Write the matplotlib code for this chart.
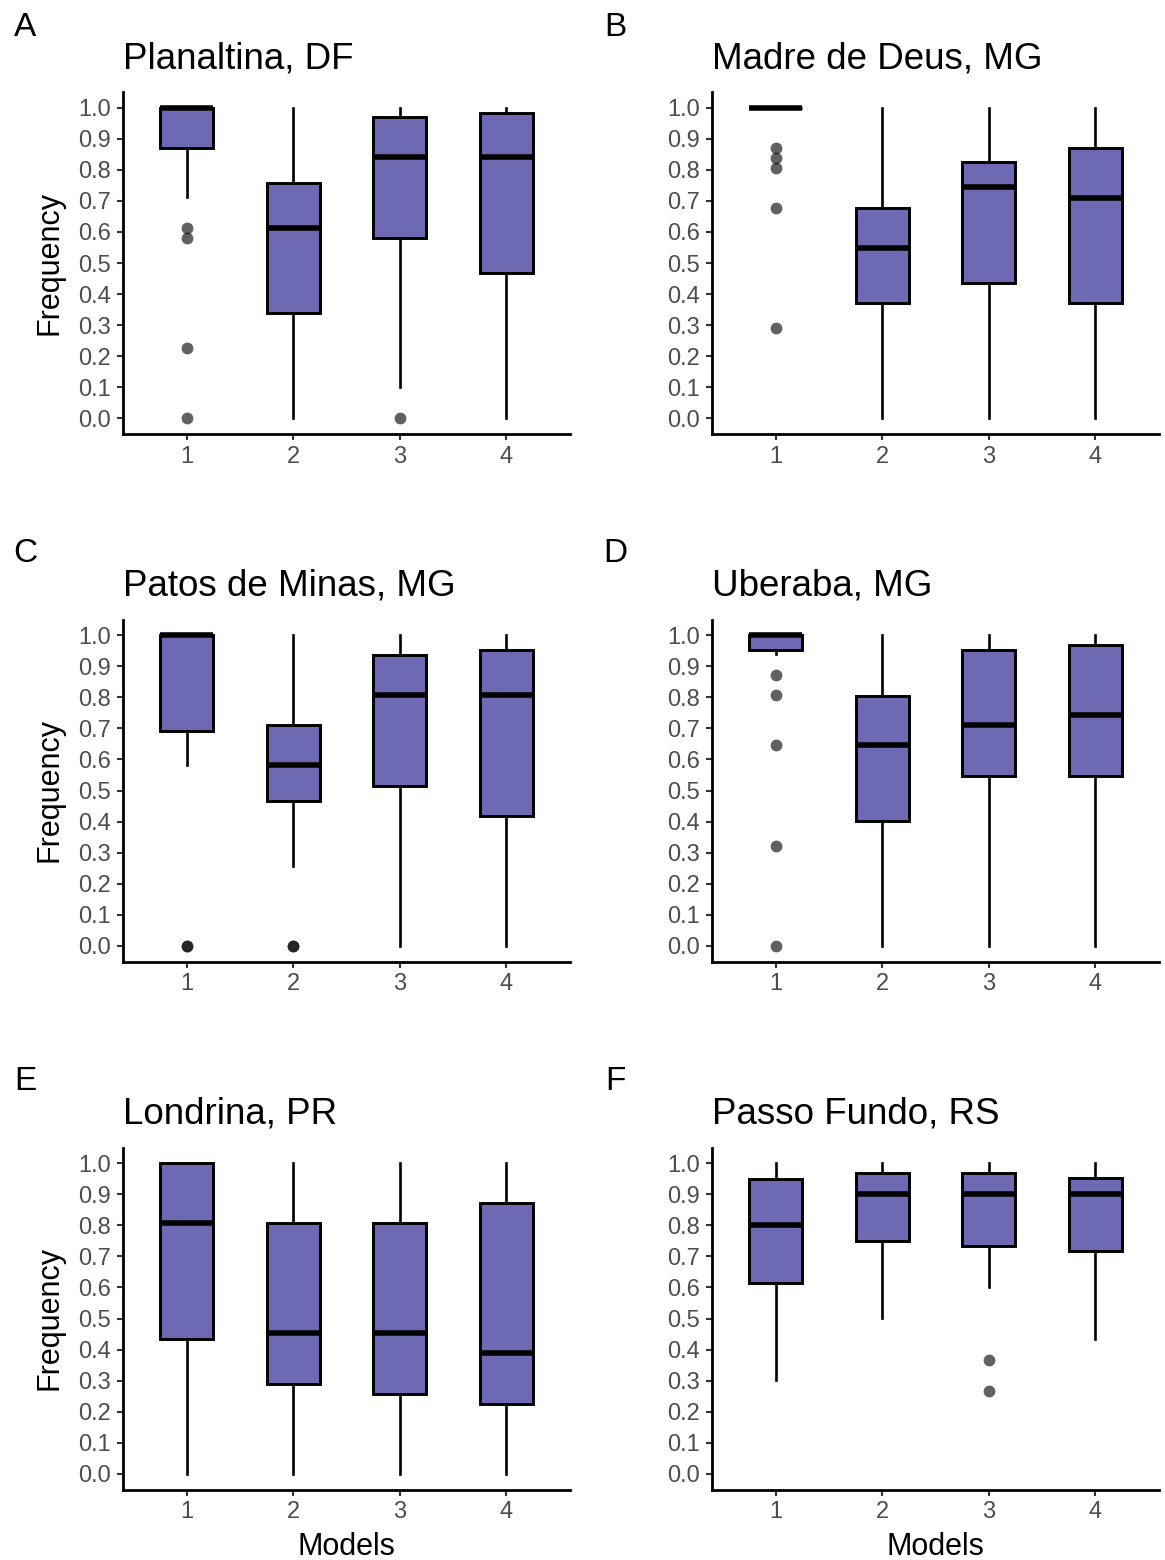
import matplotlib.pyplot as plt

plt.rcParams['font.family'] = ['Liberation Sans', 'DejaVu Sans']

# panel info
letters = ['A', 'B', 'C', 'D', 'E', 'F']
sites = ['Planaltina, DF', 'Madre de Deus, MG', 'Patos de Minas, MG',
         'Uberaba, MG', 'Londrina, PR', 'Passo Fundo, RS']
models = [1, 2, 3, 4]

# box statistics per panel (models 1-4)
q1 = [[0.871, 0.339, 0.581, 0.468],
      [1.000, 0.372, 0.436, 0.372],
      [0.692, 0.467, 0.515, 0.418],
      [0.953, 0.402, 0.547, 0.547],
      [0.434, 0.288, 0.256, 0.224],
      [0.614, 0.749, 0.732, 0.717]]
med = [[1.000, 0.614, 0.840, 0.840],
       [1.000, 0.549, 0.743, 0.710],
       [1.000, 0.581, 0.806, 0.806],
       [1.000, 0.645, 0.710, 0.742],
       [0.808, 0.452, 0.452, 0.388],
       [0.801, 0.901, 0.901, 0.901]]
q3 = [[1.000, 0.758, 0.968, 0.984],
      [1.000, 0.678, 0.824, 0.870],
      [1.000, 0.710, 0.937, 0.952],
      [1.000, 0.805, 0.952, 0.969],
      [1.000, 0.806, 0.806, 0.873],
      [0.950, 0.969, 0.969, 0.952]]
wlo = [[0.712, 0.0, 0.100, 0.0],
       [1.000, 0.0, 0.0, 0.0],
       [0.582, 0.258, 0.0, 0.0],
       [0.940, 0.0, 0.0, 0.0],
       [0.0, 0.0, 0.0, 0.0],
       [0.301, 0.501, 0.602, 0.434]]
whi = [[1.0, 1.0, 1.0, 1.0],
       [1.0, 1.0, 1.0, 1.0],
       [1.0, 1.0, 1.0, 1.0],
       [1.0, 1.0, 1.0, 1.0],
       [1.0, 1.0, 1.0, 1.0],
       [1.0, 1.0, 1.0, 1.0]]
outliers = [[[0.614, 0.581, 0.227, 0.0], [], [0.0], []],
            [[0.871, 0.839, 0.807, 0.678, 0.291], [], [], []],
            [[0.0, 0.0], [0.0, 0.0], [], []],
            [[0.871, 0.806, 0.645, 0.323, 0.0], [], [], []],
            [[], [], [], []],
            [[], [], [0.365, 0.266], []]]

fill = '#6D6AB3'
W, H = 1165, 1560
fig = plt.figure(figsize=(W / 100, H / 100), dpi=100)

lefts = [123, 712]
tops = [92, 619.5, 1147.5]
aw, ah = 447, 342

for i in range(6):
    row, col = i // 2, i % 2
    ax = fig.add_axes([lefts[col] / W, 1 - (tops[row] + ah) / H, aw / W, ah / H])

    stats = []
    for j in range(4):
        stats.append(dict(med=med[i][j], q1=q1[i][j], q3=q3[i][j],
                          whislo=wlo[i][j], whishi=whi[i][j],
                          fliers=outliers[i][j]))
    ax.bxp(stats, positions=models, widths=0.5, patch_artist=True,
           showcaps=False,
           boxprops=dict(facecolor=fill, edgecolor='black', linewidth=2.1),
           medianprops=dict(color='black', linewidth=4.0, solid_capstyle='butt'),
           whiskerprops=dict(color='black', linewidth=1.9),
           flierprops=dict(marker='o', markerfacecolor='black', markeredgecolor='none',
                           markersize=8.5, alpha=0.62))

    ax.set_xlim(0.4, 4.6)
    ax.set_ylim(-0.05, 1.05)
    ax.set_yticks([k / 10 for k in range(11)])
    ax.set_yticklabels([f'{k / 10:.1f}' for k in range(11)])
    ax.set_xticks(models)
    ax.set_xticklabels([str(m) for m in models])
    ax.tick_params(labelsize=17, labelcolor='#4D4D4D', color='#333333',
                   length=4.5, width=1.5, pad=4)
    for s in ['top', 'right']:
        ax.spines[s].set_visible(False)
    for s in ['left', 'bottom']:
        ax.spines[s].set_linewidth(2.0)

    ax.set_title(sites[i], loc='left', fontsize=26.5, pad=17)
    if col == 0:
        ax.set_ylabel('Frequency', fontsize=22)
        ax.yaxis.set_label_coords(-0.13, 0.5)
    if row == 2:
        ax.set_xlabel('Models', fontsize=22)
        ax.xaxis.set_label_coords(0.5, -0.125)

    lx = [25, 615][col]
    ly = [27, 553, 1082][row]
    fig.text(lx / W, 1 - ly / H, letters[i], fontsize=24, ha='center', va='center')

fig.savefig('out.png', dpi=100)
